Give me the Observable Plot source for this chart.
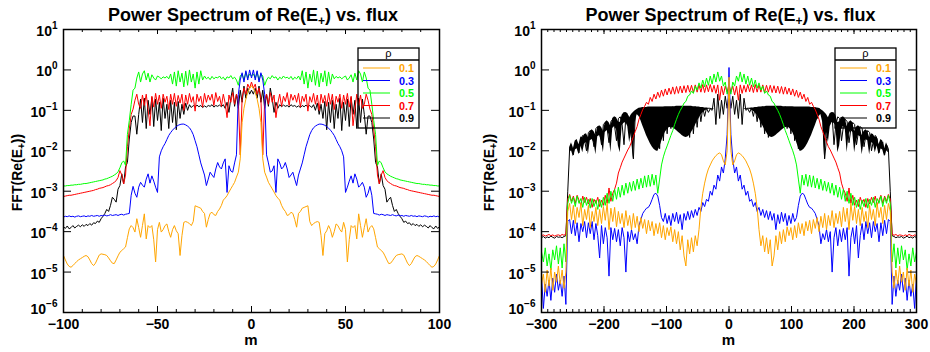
<!DOCTYPE html>
<html>
<head>
<meta charset="utf-8">
<script src="https://cdn.jsdelivr.net/npm/d3@7"></script>
<script src="https://cdn.jsdelivr.net/npm/@observablehq/plot@0.6"></script>
<style>
  html, body { margin: 0; padding: 0; background: #fff; }
  #wrap { display: flex; width: 930px; height: 352px; }
  #wrap svg { display: block; }
</style>
</head>
<body>
<div id="wrap"></div>
<script>
// ---------------- data ----------------
const rhoValues = ["0.1", "0.3", "0.5", "0.7", "0.9"];
const rhoColors = ["#FFA500", "#0000FF", "#00FF00", "#FF0000", "#000000"];
const yDecadeExponents = [1, 0, -1, -2, -3, -4, -5, -6];
const leftXTickLabels = [-100, -50, 0, 50, 100];
const rightXTickLabels = [-300, -200, -100, 0, 100, 200, 300];
const titleParts = ["Power Spectrum of Re(E", "+", ") vs. flux"];
const yLabelParts = ["FFT(Re(E", "+", "))"];
const xLabelText = "m";
const legendTitle = "\u03C1";

// Left panel: spectrum is symmetric in m; values read for m = -100..0 (step 1), as log10(power)
const leftM = d3.range(-100, 1, 1);
const leftLog01 = [
 -4.59,-4.70,-4.80,-4.86,-4.88,-4.84,-4.79,-4.74,-4.70,-4.67,
 -4.64,-4.61,-4.59,-4.62,-4.70,-4.79,-4.84,-4.78,-4.68,-4.58,
 -4.55,-4.56,-4.57,-4.59,-4.65,-4.72,-4.78,-4.79,-4.70,-4.60,
 -4.51,-4.47,-4.42,-4.38,-4.15,-3.93,-3.85,-3.90,-4.01,-3.68,
 -3.90,-4.14,-3.85,-3.56,-4.18,-3.85,-3.90,-3.85,-4.20,-4.75,
 -3.95,-3.77,-4.01,-3.95,-3.85,-3.81,-4.00,-4.14,-3.95,-3.85,
 -3.98,-4.05,-4.59,-4.10,-3.77,-3.75,-3.77,-3.80,-3.85,-3.75,
 -3.36,-3.38,-3.40,-3.42,-3.50,-3.55,-3.89,-3.70,-3.55,-3.52,
 -3.58,-3.60,-3.50,-3.44,-3.35,-3.22,-3.17,-3.11,-3.02,-2.94,
 -2.86,-2.78,-2.65,-2.53,-2.20,-1.30,-0.95,-0.72,-0.55,-0.46,
 -0.39];
const leftLog03 = [
 -3.64,-3.62,-3.63,-3.61,-3.63,-3.62,-3.64,-3.62,-3.61,-3.63,
 -3.62,-3.61,-3.63,-3.61,-3.62,-3.60,-3.62,-3.61,-3.60,-3.62,
 -3.60,-3.61,-3.59,-3.61,-3.60,-3.58,-3.60,-3.59,-3.58,-3.60,
 -3.58,-3.57,-3.59,-3.57,-3.56,-3.55,-3.10,-2.88,-3.05,-3.15,
 -2.90,-2.78,-2.85,-2.90,-2.70,-2.57,-2.80,-2.62,-2.75,-2.90,
 -3.03,-2.15,-2.00,-1.90,-1.82,-1.72,-1.62,-1.55,-1.49,-1.44,
 -1.40,-1.37,-1.35,-1.34,-1.34,-1.36,-1.39,-1.43,-1.50,-1.60,
 -1.75,-1.90,-2.10,-2.30,-2.45,-2.60,-2.86,-2.70,-2.53,-2.60,
 -2.66,-2.45,-2.29,-2.40,-2.45,-2.30,-2.20,-3.03,-2.37,-2.50,
 -2.53,-2.30,-2.10,-0.60,-0.25,-0.07,-0.30,-0.02,-0.25,0.00,
 -0.20];
const leftLog05 = [
 -2.87,-2.87,-2.86,-2.86,-2.85,-2.85,-2.84,-2.84,-2.83,-2.83,
 -2.82,-2.81,-2.81,-2.80,-2.79,-2.78,-2.77,-2.76,-2.75,-2.74,
 -2.73,-2.72,-2.70,-2.69,-2.67,-2.65,-2.63,-2.60,-2.57,-2.52,
 -2.42,-2.30,-2.25,-2.36,-1.60,-1.25,-0.85,-0.50,-0.45,-0.20,
 -0.05,-0.30,-0.10,-0.02,-0.25,-0.08,-0.30,-0.12,-0.20,-0.25,
 -0.15,-0.18,-0.22,-0.17,-0.20,-0.16,-0.22,-0.10,-0.35,-0.05,
 -0.40,-0.02,-0.30,-0.08,-0.42,-0.03,-0.38,0.00,-0.30,-0.10,
 -0.45,-0.05,-0.35,-0.02,-0.25,-0.15,-0.22,-0.18,-0.24,-0.16,
 -0.22,-0.18,-0.20,-0.15,-0.22,-0.18,-0.25,-0.17,-0.20,-0.14,
 -0.22,-0.18,-0.25,-0.38,-0.15,-0.10,-0.25,-0.05,-0.20,-0.10,
 -0.15];
const leftLog07 = [
 -3.13,-3.12,-3.11,-3.10,-3.10,-3.09,-3.08,-3.07,-3.06,-3.05,
 -3.04,-3.03,-3.02,-3.01,-3.00,-2.99,-2.98,-2.96,-2.95,-2.93,
 -2.92,-2.91,-2.89,-2.87,-2.86,-2.84,-2.81,-2.78,-2.74,-2.66,
 -2.49,-2.60,-2.82,-2.60,-1.90,-1.46,-1.10,-0.97,-0.75,-0.60,
 -0.85,-0.95,-0.62,-0.88,-0.60,-0.98,-1.38,-0.65,-0.92,-0.58,
 -0.85,-0.62,-0.95,-0.60,-0.80,-0.65,-0.98,-0.60,-0.85,-0.58,
 -0.90,-0.63,-0.82,-0.60,-1.00,-0.62,-0.85,-0.58,-0.80,-0.66,
 -1.02,-0.60,-0.78,-0.65,-0.92,-0.58,-0.80,-0.62,-0.75,-0.60,
 -0.88,-0.56,-0.78,-0.65,-0.90,-0.60,-0.82,-1.18,-0.62,-0.80,
 -0.56,-0.85,-0.60,-0.75,-2.10,-0.70,-0.45,-0.60,-0.35,-0.45,
 -0.30];
const leftLog09 = [
 -3.88,-3.92,-3.86,-3.93,-3.90,-3.85,-3.91,-3.87,-3.84,-3.88,
 -3.83,-3.87,-3.82,-3.85,-3.80,-3.84,-3.78,-3.80,-3.74,-3.77,
 -3.68,-3.62,-3.55,-3.45,-3.50,-3.35,-3.15,-3.20,-3.27,-2.95,
 -2.86,-2.57,-2.82,-2.40,-2.29,-1.71,-1.30,-1.14,-1.14,-1.59,
 -1.10,-0.72,-1.30,-0.70,-1.45,-0.75,-1.10,-0.68,-1.40,-0.72,
 -1.25,-0.80,-1.50,-0.70,-1.20,-0.85,-1.45,-0.75,-1.30,-0.80,
 -1.48,-0.78,-1.20,-0.85,-1.10,-0.82,-1.00,-0.86,-0.93,-0.88,
 -0.92,-0.87,-0.91,-0.88,-0.93,-0.89,-0.92,-0.88,-0.90,-0.86,
 -0.92,-0.88,-0.90,-0.87,-0.91,-0.86,-0.95,-0.80,-1.05,-0.70,
 -0.45,-0.90,-0.60,-0.95,-0.50,-0.80,-0.40,-0.70,-0.45,-0.60,
 -0.50];

// Right panel: values read for m = -300..0 (step 3), as log10(power); mirrored for m > 0
const rightM = d3.range(-300, 1, 3);
const rightLog01 = [
 -5.30,-5.05,-5.50,-4.95,-5.35,-4.90,-5.45,-5.00,-5.25,-4.85,
 -5.30,-4.95,-5.40,-5.00,-3.50,-3.30,-3.70,-3.35,-3.80,-3.40,
 -3.65,-3.30,-3.85,-3.45,-3.70,-3.35,-3.90,-3.50,-3.75,-3.40,
 -3.85,-3.45,-3.80,-3.38,-3.72,-3.30,-3.95,-3.42,-3.75,-3.40,
 -3.88,-3.50,-3.80,-3.55,-3.90,-3.48,-3.85,-3.60,-3.95,-3.55,
 -3.90,-3.62,-4.00,-3.65,-3.92,-3.70,-4.05,-3.72,-3.98,-3.75,
 -4.10,-3.80,-4.05,-3.78,-4.15,-3.85,-4.20,-3.90,-4.10,-3.88,
 -4.25,-3.95,-4.30,-4.00,-4.45,-4.10,-4.60,-4.85,-4.20,-4.55,
 -4.15,-4.50,-4.10,-4.35,-3.95,-3.40,-3.05,-2.80,-2.60,-2.45,
 -2.35,-2.25,-2.18,-2.12,-2.08,-2.05,-2.10,-2.25,-2.35,-2.00,
 -0.18];
const rightLog03 = [
 -5.10,-5.90,-5.30,-5.60,-5.20,-5.70,-5.15,-5.50,-5.05,-5.45,
 -5.20,-5.60,-5.10,-5.80,-3.75,-3.70,-4.05,-3.72,-4.10,-3.78,
 -4.25,-3.80,-4.00,-3.75,-4.15,-3.78,-4.05,-3.75,-4.20,-3.80,
 -4.10,-4.65,-3.85,-4.30,-3.90,-4.15,-5.10,-3.90,-4.20,-3.92,
 -4.25,-3.95,-4.35,-3.90,-4.15,-5.00,-4.00,-4.25,-3.95,-4.20,
 -4.05,-4.30,-3.85,-3.70,-3.55,-3.48,-3.42,-3.40,-3.32,-3.20,
 -3.08,-3.05,-3.12,-3.35,-3.65,-3.75,-3.55,-3.80,-3.60,-3.85,
 -3.55,-3.75,-3.52,-3.80,-3.58,-3.95,-3.55,-3.72,-3.50,-3.70,
 -3.48,-3.65,-3.45,-3.60,-3.40,-3.50,-3.28,-3.38,-3.20,-3.25,
 -3.00,-3.10,-2.85,-2.95,-2.60,-2.75,-2.40,-2.55,-2.20,-1.60,
 0.06];
const rightLog05 = [
 -4.50,-4.75,-4.40,-4.85,-4.55,-4.95,-4.45,-4.70,-4.35,-4.80,
 -4.40,-4.90,-4.30,-4.75,-3.30,-3.10,-3.30,-3.15,-3.38,-3.12,
 -3.30,-3.18,-3.40,-3.15,-3.35,-3.20,-3.42,-3.18,-3.38,-3.22,
 -3.45,-3.20,-3.40,-3.15,-3.35,-3.05,-3.30,-3.00,-3.25,-2.95,
 -3.20,-2.90,-3.15,-2.85,-3.10,-2.80,-3.05,-2.78,-3.00,-2.75,
 -2.98,-2.70,-2.95,-2.68,-2.92,-2.62,-2.90,-2.60,-2.88,-2.58,
 -2.85,-2.60,-3.05,-2.70,-2.35,-2.15,-2.00,-1.88,-1.75,-1.62,
 -1.50,-1.35,-1.22,-1.10,-1.00,-0.92,-0.82,-0.78,-0.65,-0.62,
 -0.52,-0.58,-0.40,-0.50,-0.32,-0.45,-0.25,-0.42,-0.20,-0.38,
 -0.15,-0.35,-0.10,-0.30,-0.05,-0.28,-0.15,-0.40,-0.30,-0.60,
 -0.40];
const rightLog07 = [
 -4.10,-4.08,-4.11,-4.09,-4.07,-4.10,-4.08,-4.11,-4.09,-4.08,
 -4.10,-4.07,-4.09,-4.06,-3.20,-3.08,-3.25,-3.12,-3.30,-3.10,
 -3.22,-3.35,-3.12,-3.28,-3.15,-3.32,-3.18,-3.40,-3.20,-3.30,
 -3.15,-3.38,-3.22,-3.35,-3.10,-3.30,-2.92,-3.25,-3.05,-2.95,
 -2.80,-2.55,-2.42,-2.28,-2.18,-2.08,-1.98,-1.90,-1.78,-1.65,
 -1.52,-1.40,-1.22,-1.10,-0.98,-0.90,-0.80,-0.85,-0.68,-0.78,
 -0.60,-0.72,-0.55,-0.68,-0.50,-0.65,-0.47,-0.62,-0.45,-0.60,
 -0.42,-0.60,-0.41,-0.58,-0.40,-0.57,-0.39,-0.56,-0.38,-0.55,
 -0.38,-0.56,-0.37,-0.55,-0.37,-0.55,-0.36,-0.56,-0.37,-0.54,
 -0.36,-0.55,-0.38,-0.58,-0.37,-0.75,-0.40,-0.62,-0.40,-0.55,
 -0.35];
const rightLog09 = [
 -4.15,-4.12,-4.16,-4.13,-4.15,-4.11,-4.14,-4.16,-4.12,-4.14,
 -4.13,-4.15,-4.12,-4.10,-3.00,-1.95,-1.85,-2.10,-1.78,-1.85,
 -2.05,-1.70,-1.62,-1.75,-2.00,-1.55,-1.50,-1.62,-1.90,-1.45,
 -1.40,-1.55,-1.85,-1.35,-1.30,-1.45,-1.80,-1.28,-1.22,-1.40,
 -1.75,-1.20,-1.16,-1.35,-1.85,-1.15,-1.12,-1.30,-1.70,-2.20,
 -1.12,-1.05,-0.95,-1.20,-0.94,-1.40,-0.93,-1.55,-0.93,-1.72,
 -0.92,-1.88,-0.92,-1.95,-0.92,-1.75,-0.92,-1.58,-0.92,-1.45,
 -0.91,-1.42,-0.91,-1.45,-0.91,-1.52,-0.90,-1.60,-0.90,-1.67,
 -0.90,-1.58,-0.91,-1.42,-0.92,-1.28,-0.93,-1.15,-0.94,-1.05,
 -0.96,-1.00,-0.70,-1.35,-0.60,-1.20,-0.75,-1.10,-0.65,-0.95,
 -0.60];
// rho = 0.9 (right panel) oscillates faster than the sampling: its upper and lower
// envelopes (log10) read for m = -255..-24 (step 3), mirrored for m > 0
const rightEnvM09 = d3.range(-255, -23, 3);
const rightEnvHigh09 = [
 -1.92,-1.80,-1.95,-1.76,-1.72,-1.85,-1.66,-1.68,-1.60,-1.58,
 -1.68,-1.52,-1.48,-1.52,-1.62,-1.42,-1.38,-1.42,-1.52,-1.30,
 -1.26,-1.30,-1.40,-1.20,-1.16,-1.18,-1.28,-1.30,-1.12,-1.06,
 -1.05,-1.08,-1.18,-1.10,-1.05,-1.01,-0.98,-0.95,-0.94,-0.93,
 -0.93,-0.93,-0.92,-0.92,-0.92,-0.92,-0.92,-0.92,-0.92,-0.92,
 -0.92,-0.91,-0.91,-0.91,-0.91,-0.91,-0.91,-0.90,-0.90,-0.90,
 -0.90,-0.90,-0.90,-0.90,-0.90,-0.90,-0.91,-0.91,-0.92,-0.92,
 -0.93,-0.93,-0.94,-0.94,-0.95,-0.95,-0.96,-0.96];
const rightEnvLow09 = [
 -2.05,-2.00,-2.15,-1.98,-1.95,-2.10,-1.88,-2.05,-1.82,-1.80,
 -2.10,-1.75,-1.72,-1.80,-2.10,-1.65,-1.62,-1.75,-2.05,-1.55,
 -1.50,-1.60,-2.05,-1.45,-1.40,-1.48,-1.88,-2.05,-1.38,-1.32,
 -1.30,-1.40,-1.80,-1.55,-2.20,-1.30,-1.10,-1.15,-1.25,-1.38,
 -1.50,-1.62,-1.72,-1.82,-1.90,-1.96,-2.00,-2.02,-1.92,-1.78,
 -1.65,-1.55,-1.48,-1.43,-1.42,-1.43,-1.46,-1.50,-1.54,-1.58,
 -1.62,-1.65,-1.67,-1.66,-1.62,-1.55,-1.47,-1.38,-1.28,-1.20,
 -1.12,-1.06,-1.02,-0.99,-0.97,-0.97,-0.98,-0.97];

// ---------------- rendering ----------------
const W = 465, H = 352, MT = 29, MB = 40;
const FONT = "'Liberation Sans', Helvetica, Arial, sans-serif";

function mirrored(ms, logs) {
  const rows = ms.map((m, i) => ({m, power: Math.pow(10, logs[i])}));
  for (let i = ms.length - 2; i >= 0; i--) rows.push({m: -ms[i], power: Math.pow(10, logs[i])});
  return rows;
}
function envelopeRows(ms, high, low) {
  const rows = [];
  ms.forEach((m, i) => rows.push({m, high: Math.pow(10, high[i]), low: Math.pow(10, low[i]), side: "neg"}));
  for (let i = ms.length - 1; i >= 0; i--) rows.push({m: -ms[i], high: Math.pow(10, high[i]), low: Math.pow(10, low[i]), side: "pos"});
  return rows;
}
const signed = v => (v < 0 ? "\u2212" + (-v) : String(v));

function makePanel({ms, logs, xDomain, majorTicks, minorStep, marginLeft, marginRight, yLabelX, legendX, underlay = []}) {
  const fw = W - marginLeft - marginRight, fh = H - MT - MB;
  const minorTicks = d3.range(xDomain[0], xDomain[1] + minorStep / 2, minorStep);
  const decades = yDecadeExponents.map(e => Math.pow(10, e));
  const marks = [...underlay];
  for (let k = rhoValues.length - 1; k >= 0; k--) {
    marks.push(Plot.line(mirrored(ms, logs[k]), {x: "m", y: "power", stroke: rhoColors[k], strokeWidth: 1, clip: true}));
  }
  marks.push(
    Plot.tickY(decades, {insetRight: fw - 8, stroke: "black", strokeWidth: 1}),
    Plot.tickY(decades, {insetLeft: fw - 8, stroke: "black", strokeWidth: 1}),
    Plot.tickX(majorTicks, {insetTop: fh - 6, stroke: "black", strokeWidth: 1}),
    Plot.tickX(minorTicks, {insetTop: fh - 3, stroke: "black", strokeWidth: 1}),
    Plot.tickX(majorTicks, {insetBottom: fh - 5, stroke: "black", strokeWidth: 1}),
    Plot.tickX(minorTicks, {insetBottom: fh - 3, stroke: "black", strokeWidth: 1}),
    Plot.frame({stroke: "black", strokeWidth: 1.5}),
    Plot.text(majorTicks, {x: d => d, text: d => signed(d), frameAnchor: "bottom", lineAnchor: "top", dy: 7, fontSize: 14, fontWeight: "bold"}),
    Plot.text(yDecadeExponents.filter(e => e > -6), {y: e => Math.pow(10, e), text: e => "10^" + signed(e), frameAnchor: "left", textAnchor: "end", dx: -6, dy: 2, fontSize: 14, fontWeight: "bold"}),
    Plot.text(yDecadeExponents.filter(e => e === -6), {y: e => Math.pow(10, e), text: e => "10^" + signed(e), frameAnchor: "left", textAnchor: "end", dx: -6, dy: -3, fontSize: 14, fontWeight: "bold"})
  );
  const svg = Plot.plot({
    width: W, height: H, marginLeft, marginRight, marginTop: MT, marginBottom: MB,
    x: {domain: xDomain, axis: null},
    y: {type: "log", domain: [1e-6, 10], axis: null},
    style: {fontFamily: FONT, background: "white", color: "black", overflow: "visible"},
    marks
  });
  const s = d3.select(svg);
  // superscript exponents in tick labels
  s.selectAll("text").each(function() {
    const t = this.textContent;
    if (t.startsWith("10^")) {
      const exp = t.slice(3);
      this.textContent = "10";
      d3.select(this).append("tspan").attr("dy", "-7").attr("font-size", 10).text(exp);
    }
  });
  const cx = marginLeft + fw / 2;
  // title
  const tt = s.append("text").attr("x", cx + 2).attr("y", 21).attr("text-anchor", "middle")
    .attr("font-family", FONT).attr("font-size", 18).attr("font-weight", "bold").attr("fill", "black");
  tt.append("tspan").text(titleParts[0]);
  tt.append("tspan").attr("dy", 4).attr("font-size", 12).text(titleParts[1]);
  tt.append("tspan").attr("dy", -4).text(titleParts[2]);
  // y label
  const yl = s.append("text").attr("transform", `translate(${yLabelX},${MT + fh / 2 + 2}) rotate(-90)`)
    .attr("text-anchor", "middle").attr("font-family", FONT).attr("font-size", 14).attr("font-weight", "bold").attr("fill", "black");
  yl.append("tspan").text(yLabelParts[0]);
  yl.append("tspan").attr("dy", 3).attr("font-size", 10).text(yLabelParts[1]);
  yl.append("tspan").attr("dy", -3).text(yLabelParts[2]);
  // x label
  s.append("text").attr("x", cx).attr("y", 345).attr("text-anchor", "middle").attr("font-family", FONT)
    .attr("font-size", 15).attr("font-weight", "bold").attr("fill", "black").text(xLabelText);
  // legend
  const lg = s.append("g");
  lg.append("rect").attr("x", legendX).attr("y", 48).attr("width", 61).attr("height", 80)
    .attr("fill", "none").attr("stroke", "black").attr("stroke-width", 1.3);
  lg.append("line").attr("x1", legendX).attr("x2", legendX + 61).attr("y1", 60).attr("y2", 60)
    .attr("stroke", "black").attr("stroke-width", 1.3);
  lg.append("text").attr("x", legendX + 30.5).attr("y", 57).attr("text-anchor", "middle")
    .attr("font-family", FONT).attr("font-size", 11).attr("fill", "black").text(legendTitle);
  rhoValues.forEach((r, k) => {
    const y = 68 + k * 12.5;
    lg.append("line").attr("x1", legendX + 5).attr("x2", legendX + 32).attr("y1", y).attr("y2", y)
      .attr("stroke", rhoColors[k]).attr("stroke-width", 1);
    lg.append("text").attr("x", legendX + 56).attr("y", y + 4).attr("text-anchor", "end")
      .attr("font-family", FONT).attr("font-size", 10.8).attr("font-weight", "bold").attr("fill", rhoColors[k]).text(r);
  });
  return svg;
}

const wrap = document.getElementById("wrap");
wrap.appendChild(makePanel({
  ms: leftM, logs: [leftLog01, leftLog03, leftLog05, leftLog07, leftLog09],
  xDomain: [-100, 100], majorTicks: leftXTickLabels, minorStep: 10,
  marginLeft: 63, marginRight: 26, yLabelX: 22, legendX: 358
}));
wrap.appendChild(makePanel({
  ms: rightM, logs: [rightLog01, rightLog03, rightLog05, rightLog07, rightLog09],
  xDomain: [-300, 300], majorTicks: rightXTickLabels, minorStep: 10,
  marginLeft: 76, marginRight: 14, yLabelX: 29, legendX: 370,
  underlay: [Plot.areaY(envelopeRows(rightEnvM09, rightEnvHigh09, rightEnvLow09),
    {x: "m", y1: "low", y2: "high", z: "side", fill: rhoColors[4], clip: true})]
}));
</script>
</body>
</html>
